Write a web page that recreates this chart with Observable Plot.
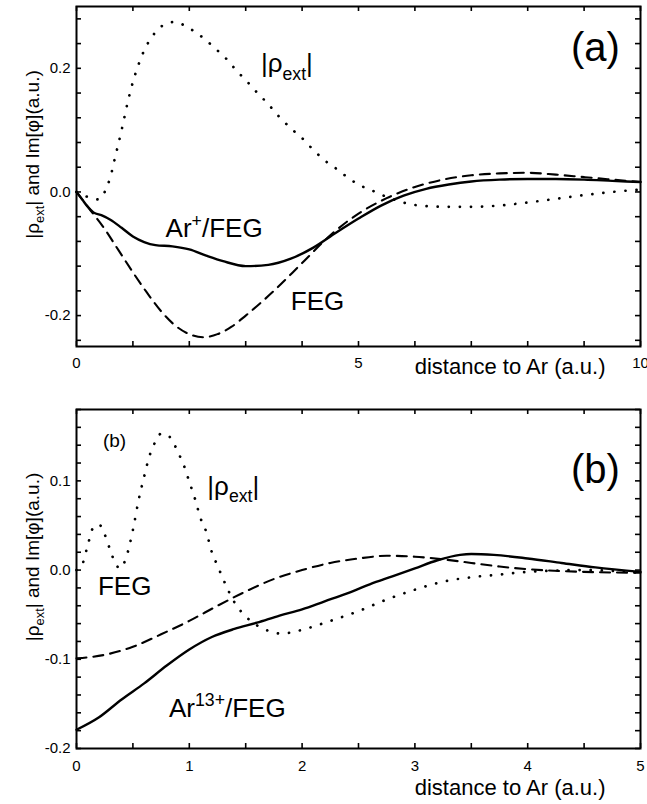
<!DOCTYPE html>
<html><head><meta charset="utf-8">
<script src="https://cdn.jsdelivr.net/npm/d3@7"></script>
<script src="https://cdn.jsdelivr.net/npm/@observablehq/plot@0.6"></script>
<style>
body{margin:0;background:#fff;}
#chart svg{display:block;}
</style></head><body><div id="chart"></div>
<script>
// ---------- Panel (a) data ----------
const aArFEG = [[0,0],[0.1,-0.012],[0.2,-0.024],[0.3,-0.033],[0.45,-0.038],[0.6,-0.045],[0.8,-0.058],[1.0,-0.072],[1.2,-0.081],[1.4,-0.086],[1.7,-0.088],[2.0,-0.093],[2.3,-0.103],[2.6,-0.112],[3.0,-0.12],[3.4,-0.118],[3.8,-0.108],[4.2,-0.09],[4.6,-0.066],[5.0,-0.043],[5.4,-0.022],[5.8,-0.006],[6.2,0.005],[6.6,0.012],[7.0,0.017],[7.5,0.02],[8.0,0.021],[8.5,0.021],[9.0,0.02],[9.5,0.018],[10.0,0.016]];
const aFEG = [[0,0],[0.25,-0.03],[0.5,-0.06],[0.75,-0.095],[1.0,-0.13],[1.25,-0.163],[1.5,-0.193],[1.75,-0.216],[2.0,-0.23],[2.25,-0.235],[2.5,-0.23],[2.75,-0.218],[3.0,-0.2],[3.5,-0.16],[4.0,-0.115],[4.5,-0.07],[5.0,-0.035],[5.5,-0.01],[6.0,0.008],[6.5,0.02],[7.0,0.027],[7.5,0.03],[8.0,0.031],[8.5,0.028],[9.0,0.024],[9.5,0.02],[10.0,0.016]];
const aRho = [[0,0],[0.2,-0.008],[0.4,-0.012],[0.5,0.0],[0.6,0.024],[0.7,0.062],[0.8,0.1],[0.9,0.142],[1.0,0.178],[1.1,0.206],[1.2,0.229],[1.3,0.246],[1.45,0.263],[1.6,0.273],[1.75,0.275],[1.9,0.27],[2.05,0.262],[2.25,0.249],[2.45,0.233],[2.65,0.216],[2.85,0.195],[3.0,0.181],[3.2,0.161],[3.4,0.142],[3.6,0.121],[3.8,0.103],[4.0,0.087],[4.2,0.068],[4.4,0.051],[4.6,0.038],[4.8,0.024],[5.0,0.012],[5.25,0.002],[5.5,-0.008],[5.75,-0.016],[6.0,-0.021],[6.5,-0.024],[7.0,-0.024],[7.5,-0.022],[8.0,-0.017],[8.5,-0.011],[9.0,-0.005],[9.5,0.0],[10.0,0.004]];
const aXTicks = [0,1,2,3,4,5,6,7,8,9,10];
const aXLabels = [0,5,10];
const aYTicks = [-0.24,-0.2,-0.16,-0.12,-0.08,-0.04,0,0.04,0.08,0.12,0.16,0.2,0.24,0.28];
const aYLabels = [-0.2,0,0.2];
const aNotes = [{label:"|ρext|",x:3.27,y:0.207},{label:"Ar+/FEG",x:1.58,y:-0.06},{label:"FEG",x:3.8,y:-0.177}];
const aTag = [{label:"(a)",x:9.2,y:0.233}];

// ---------- Panel (b) data ----------
const bArFEG = [[0,-0.179],[0.2,-0.165],[0.4,-0.145],[0.6,-0.127],[0.8,-0.107],[1.0,-0.089],[1.2,-0.075],[1.4,-0.066],[1.6,-0.059],[1.8,-0.051],[2.0,-0.044],[2.2,-0.035],[2.4,-0.026],[2.6,-0.016],[2.8,-0.007],[3.0,0.002],[3.2,0.011],[3.4,0.017],[3.5,0.018],[3.7,0.017],[4.0,0.013],[4.3,0.008],[4.6,0.003],[5.0,-0.002]];
const bFEG = [[0,-0.099],[0.25,-0.095],[0.5,-0.086],[0.75,-0.072],[1.0,-0.057],[1.25,-0.04],[1.5,-0.024],[1.75,-0.01],[2.0,0.0],[2.25,0.008],[2.5,0.013],[2.75,0.016],[3.0,0.015],[3.25,0.012],[3.5,0.008],[3.75,0.004],[4.0,0.001],[4.5,-0.002],[5.0,-0.003]];
const bRho = [[0,0.0],[0.05,0.006],[0.1,0.028],[0.15,0.048],[0.2,0.051],[0.25,0.04],[0.3,0.022],[0.35,0.006],[0.39,0.002],[0.44,0.014],[0.5,0.045],[0.55,0.078],[0.6,0.105],[0.65,0.129],[0.7,0.144],[0.75,0.153],[0.8,0.152],[0.85,0.145],[0.9,0.132],[0.95,0.118],[1.0,0.099],[1.05,0.08],[1.1,0.058],[1.15,0.043],[1.2,0.02],[1.25,0.005],[1.3,-0.01],[1.35,-0.024],[1.4,-0.036],[1.5,-0.052],[1.6,-0.062],[1.7,-0.068],[1.8,-0.071],[1.9,-0.07],[2.0,-0.067],[2.25,-0.057],[2.5,-0.046],[2.75,-0.033],[3.0,-0.022],[3.25,-0.013],[3.5,-0.008],[3.75,-0.005],[4.0,-0.002],[4.5,0.0],[5.0,-0.003]];
const bXTicks = [0,0.5,1,1.5,2,2.5,3,3.5,4,4.5,5];
const bXLabels = [0,1,2,3,4,5];
const bYTicks = [-0.2,-0.18,-0.16,-0.14,-0.12,-0.1,-0.08,-0.06,-0.04,-0.02,0,0.02,0.04,0.06,0.08,0.1,0.12,0.14,0.16,0.18];
const bYLabels = [-0.2,-0.1,0,0.1];
const bNotes = [{label:"|ρext|",x:1.16,y:0.094},{label:"FEG",x:0.19,y:-0.019},{label:"Ar13+/FEG",x:0.82,y:-0.155}];
const bSmallTag = [{label:"(b)",x:0.337,y:0.1445}];
const bTag = [{label:"(b)",x:4.6,y:0.112}];

const xTitle = "distance to Ar (a.u.)";
const yTitle = "|ρext| and Im[φ](a.u.)";

// rich text pieces (sub/superscripts)
const RICH = {
  "|ρext|": [["|ρ"],["ext","sub"],["|"]],
  "Ar+/FEG": [["Ar"],["+","sup"],["/FEG"]],
  "Ar13+/FEG": [["Ar"],["13+","sup"],["/FEG"]],
  "|ρext| and Im[φ](a.u.)": [["|ρ"],["ext","sub"],["| and Im[φ](a.u.)"]]
};

const W = 647, H = 402, ML = 76, MR = 7;
const FONT = "'Liberation Sans', Arial, Helvetica, sans-serif";

function panel({xDomain, yDomain, mt, mb, xTicks, xLabels, yTicks, yLabels, solid, dashed, dotted, notes, tags, smallTags, labelPad, titleDy}) {
  const iw = W - ML - MR, ih = H - mt - mb, tk = 5;
  const line = (data, opts) => Plot.line(data, {x: d => d[0], y: d => d[1], stroke: "black", curve: "monotone-x", ...opts});
  const marks = [
    line(dashed, {strokeWidth: 2.1, strokeDasharray: "10,7"}),
    line(dotted, {strokeWidth: 2.7, strokeDasharray: "0.1,11", strokeLinecap: "round"}),
    line(solid, {strokeWidth: 2.4}),
    Plot.ruleX(xTicks, {x: d => d, insetTop: ih - tk, strokeWidth: 1.6}),
    Plot.ruleX(xTicks, {x: d => d, insetBottom: ih - tk, strokeWidth: 1.6}),
    Plot.ruleY(yTicks, {y: d => d, insetRight: iw - tk, strokeWidth: 1.6}),
    Plot.ruleY(yTicks, {y: d => d, insetLeft: iw - tk, strokeWidth: 1.6}),
    Plot.frame({stroke: "black", strokeWidth: 2}),
    Plot.text(notes, {x: "x", y: "y", text: "label", textAnchor: "start", fontSize: 26, fill: "black"}),
    Plot.text(tags, {x: "x", y: "y", text: "label", fontSize: 40, fill: "black"}),
    Plot.text([xTitle], {frameAnchor: "bottom-right", textAnchor: "end", dx: -35, dy: titleDy, fontSize: 22, fill: "black"}),
    Plot.text([yTitle], {frameAnchor: "left", textAnchor: "middle", rotate: -90, dx: -44, dy: -22, fontSize: 19, fill: "black"})
  ];
  if (smallTags) marks.push(Plot.text(smallTags, {x: "x", y: "y", text: "label", fontSize: 19, fill: "black"}));
  return Plot.plot({
    width: W, height: H, marginLeft: ML, marginRight: MR, marginTop: mt, marginBottom: mb,
    style: {fontFamily: FONT, fontSize: "15px", color: "black", background: "white", overflow: "visible"},
    x: {domain: xDomain, ticks: xLabels, tickSize: 0, tickPadding: labelPad, tickFormat: d => String(d), label: null},
    y: {domain: yDomain, ticks: yLabels, tickSize: 0, tickPadding: 6, tickFormat: d => d.toFixed(1), label: null},
    marks
  });
}

function richify(svg) {
  svg.querySelectorAll("text").forEach(t => {
    const parts = RICH[t.textContent];
    if (!parts) return;
    const fs = parseFloat(window.getComputedStyle(t).fontSize) || 20;
    while (t.firstChild) t.removeChild(t.firstChild);
    let shift = 0;
    parts.forEach(([s, k]) => {
      const ts = document.createElementNS("http://www.w3.org/2000/svg", "tspan");
      const target = k === "sub" ? 0.28 * fs : k === "sup" ? -0.4 * fs : 0;
      if (target - shift !== 0) ts.setAttribute("dy", target - shift);
      shift = target;
      if (k) ts.setAttribute("font-size", 0.68 * fs);
      ts.textContent = s;
      t.appendChild(ts);
    });
  });
}

const root = document.getElementById("chart");
const svgA = panel({xDomain: [0, 10], yDomain: [-0.25, 0.30], mt: 6, mb: 56,
  xTicks: aXTicks, xLabels: aXLabels, yTicks: aYTicks, yLabels: aYLabels,
  solid: aArFEG, dashed: aFEG, dotted: aRho, notes: aNotes, tags: aTag, labelPad: 11, titleDy: 27});
const svgB = panel({xDomain: [0, 5], yDomain: [-0.2, 0.18], mt: 7, mb: 56,
  xTicks: bXTicks, xLabels: bXLabels, yTicks: bYTicks, yLabels: bYLabels,
  solid: bArFEG, dashed: bFEG, dotted: bRho, notes: bNotes, tags: bTag, smallTags: bSmallTag, labelPad: 12, titleDy: 46});
root.appendChild(svgA);
root.appendChild(svgB);
richify(svgA);
richify(svgB);
</script></body></html>
